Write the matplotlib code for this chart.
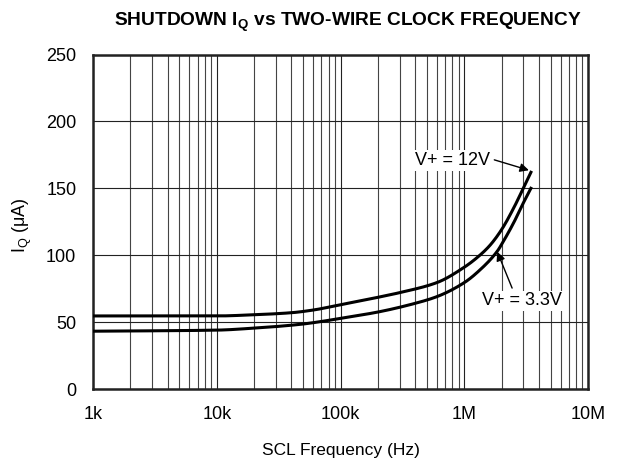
import matplotlib
matplotlib.use("Agg")
import matplotlib.pyplot as plt
from matplotlib.ticker import FixedLocator, NullFormatter
import numpy as np

plt.rcParams['font.family'] = ['Liberation Sans', 'DejaVu Sans']
plt.rcParams['mathtext.fontset'] = 'custom'
plt.rcParams['mathtext.rm'] = 'Liberation Sans'
plt.rcParams['mathtext.it'] = 'Liberation Sans'
plt.rcParams['mathtext.bf'] = 'Liberation Sans:bold'

# Data
freq_12v = [1e3, 1e4, 2e4, 4e4, 6e4, 1e5, 2e5, 3e5, 6e5, 1e6, 1.3e6, 1.6e6, 2e6, 2.5e6, 3e6, 3.5e6]
iq_12v = [54.6, 54.6, 55.5, 57.0, 59.0, 63.0, 68.5, 72.0, 79.5, 91.0, 99.0, 107.0, 119.0, 135.0, 150.0, 163.0]
freq_33v = [1e3, 1e4, 2e4, 4.7e4, 6.5e4, 1e5, 2e5, 4e5, 6e5, 1e6, 1.34e6, 1.85e6, 2.06e6, 2.5e6, 3e6, 3.5e6]
iq_33v = [43.2, 44.0, 45.5, 48.3, 50.0, 52.8, 57.5, 64.0, 69.0, 79.5, 89.0, 103.0, 110.0, 124.0, 139.0, 151.0]

x_ticks = [1e3, 1e4, 1e5, 1e6, 1e7]
x_labels = ['1k', '10k', '100k', '1M', '10M']
y_ticks = [0, 50, 100, 150, 200, 250]


def pchip(x, y, xs):
    x = np.asarray(x, float)
    y = np.asarray(y, float)
    h = np.diff(x)
    d = np.diff(y) / h
    n = len(x)
    m = np.zeros(n)
    for i in range(1, n - 1):
        if d[i - 1] * d[i] <= 0:
            m[i] = 0.0
        else:
            w1 = 2 * h[i] + h[i - 1]
            w2 = h[i] + 2 * h[i - 1]
            m[i] = (w1 + w2) / (w1 / d[i - 1] + w2 / d[i])
    m[0] = d[0]
    m[-1] = d[-1]
    idx = np.clip(np.searchsorted(x, xs) - 1, 0, n - 2)
    t = (xs - x[idx]) / h[idx]
    h00 = 2 * t**3 - 3 * t**2 + 1
    h10 = t**3 - 2 * t**2 + t
    h01 = -2 * t**3 + 3 * t**2
    h11 = t**3 - t**2
    return h00 * y[idx] + h10 * h[idx] * m[idx] + h01 * y[idx + 1] + h11 * h[idx] * m[idx + 1]


def curve(fx, fy):
    lx = np.log10(fx)
    xs = np.linspace(lx[0], lx[-1], 500)
    return 10**xs, pchip(lx, fy, xs)


fig = plt.figure(figsize=(6.18, 4.62), dpi=100)
ax = fig.add_axes([93/618, 1-389/462, (588-93)/618, (389-54.5)/462])

ax.set_xscale('log')
ax.set_xlim(1e3, 1e7)
ax.set_ylim(0, 250)

sx, sy = curve(freq_12v, iq_12v)
ax.plot(sx, sy, color='black', lw=2.2, solid_capstyle='butt', zorder=3)
sx, sy = curve(freq_33v, iq_33v)
ax.plot(sx, sy, color='black', lw=2.2, solid_capstyle='butt', zorder=3)

ax.xaxis.set_major_locator(FixedLocator(x_ticks))
ax.set_xticklabels(x_labels)
minor = [m * 10**e for e in range(3, 7) for m in range(2, 10)]
ax.xaxis.set_minor_locator(FixedLocator(minor))
ax.xaxis.set_minor_formatter(NullFormatter())
ax.set_yticks(y_ticks)

ax.grid(True, which='major', color='#222222', lw=0.8)
ax.grid(True, which='minor', axis='x', color='#444444', lw=0.8)
ax.tick_params(which='both', length=0, labelsize=13, colors='black')
ax.tick_params(axis='x', pad=12)
ax.tick_params(axis='y', pad=12)
for s in ax.spines.values():
    s.set_linewidth(1.8)
    s.set_color('#222222')

ax.set_xlabel('SCL Frequency (Hz)', fontsize=12.5)
ax.xaxis.label.set_va('center')
ax.xaxis.set_label_coords(0.5, -(450-389)/334.5)
ax.set_ylabel(r'I$_\mathregular{Q}$ ($\mathregular{\mu}$A)', fontsize=13)
ax.yaxis.label.set_va('center')
ax.yaxis.set_label_coords(-(93-22)/495, 0.49)

fig.text(348/618, 1-26.5/462, r'SHUTDOWN I$_\mathbf{Q}$ vs TWO-WIRE CLOCK FREQUENCY',
         ha='center', va='baseline', fontsize=13.8, fontweight='bold')

bbox = dict(boxstyle='square,pad=0.1', fc='white', ec='none')
ax.annotate('V+ = 12V', xy=(3.33e6, 163.5), xytext=(1.61e6, 171),
            ha='right', va='center', fontsize=13, bbox=bbox, zorder=4,
            arrowprops=dict(arrowstyle='-|>', color='black', lw=1.0, mutation_scale=13,
                            shrinkA=2, shrinkB=0, relpos=(1.0, 0.6)))
ax.annotate('V+ = 3.3V', xy=(1.85e6, 102.5), xytext=(1.39e6, 65.8),
            ha='left', va='center', fontsize=13, bbox=bbox, zorder=4,
            arrowprops=dict(arrowstyle='-|>', color='black', lw=1.0, mutation_scale=13,
                            shrinkA=2, shrinkB=0, relpos=(0.4, 1.0)))

fig.savefig('out.png', dpi=100)
